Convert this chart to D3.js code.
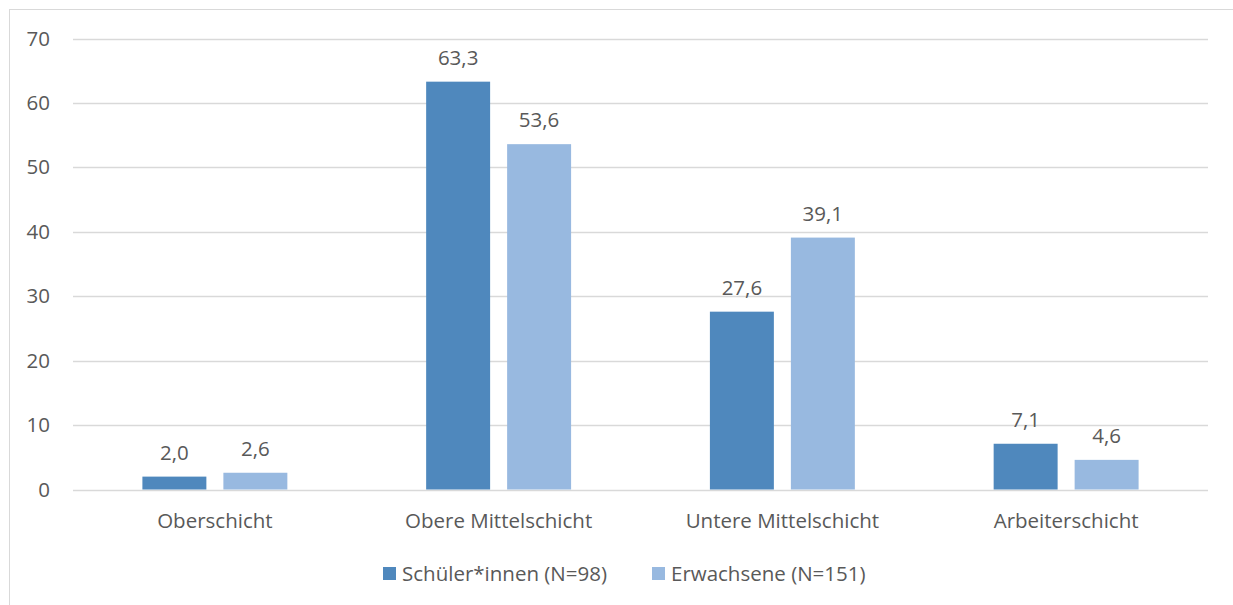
<!DOCTYPE html>
<html>
<head>
<meta charset="utf-8">
<script src="https://cdn.jsdelivr.net/npm/d3@7"></script>
<style>
  body { margin: 0; background: #fff; }
  text { font-family: "Open Sans", "Liberation Sans", sans-serif; fill: #595959; }
</style>
</head>
<body>
<script>
// data
var categories = ["Oberschicht", "Obere Mittelschicht", "Untere Mittelschicht", "Arbeiterschicht"];
var seriesNames = ["Schüler*innen (N=98)", "Erwachsene (N=151)"];
var schueler = [2.0, 63.3, 27.6, 7.1];
var erwachsene = [2.6, 53.6, 39.1, 4.6];
var yTicks = [0, 10, 20, 30, 40, 50, 60, 70];
var colors = ["#4f88bd", "#98b9e0"];

var width = 1233, height = 605;
var fs = 20.5;

var svg = d3.select("body").append("svg")
    .attr("width", width)
    .attr("height", height);

// outer frame
svg.append("rect")
    .attr("x", 9.5).attr("y", 9.5)
    .attr("width", width).attr("height", height)
    .attr("fill", "none")
    .attr("stroke", "#d9d9d9");

var plot = { left: 73, right: 1208, top: 38.5, bottom: 489.5 };

var y = d3.scaleLinear().domain([0, 70]).range([plot.bottom, plot.top]);
var x0 = d3.scaleBand().domain(categories).range([plot.left, plot.right]);
var x1 = d3.scaleBand().domain([0, 1]).range([0, x0.bandwidth()])
    .paddingInner(0.21).paddingOuter(0.857);

// gridlines
svg.append("g").selectAll("line")
  .data(yTicks)
  .enter().append("line")
    .attr("x1", plot.left).attr("x2", plot.right)
    .attr("y1", function(d) { return Math.round(y(d)) + 0.5; })
    .attr("y2", function(d) { return Math.round(y(d)) + 0.5; })
    .attr("stroke", "#d9d9d9")
    .attr("stroke-width", 1.3);

// y axis labels
var yAxis = d3.axisLeft(y).tickValues(yTicks).tickSize(0).tickPadding(0);
var gy = svg.append("g")
    .attr("transform", "translate(50,0)")
    .call(yAxis);
gy.select(".domain").remove();
gy.selectAll("text")
    .attr("font-size", fs)
    .style("font-family", "'Open Sans', sans-serif")
    .attr("fill", "#595959");

// x axis labels
var xAxis = d3.axisBottom(x0).tickSize(0).tickPadding(0);
var gx = svg.append("g")
    .attr("transform", "translate(0," + (plot.bottom + 24) + ")")
    .call(xAxis);
gx.select(".domain").remove();
gx.selectAll("text")
    .attr("font-size", fs)
    .style("font-family", "'Open Sans', sans-serif")
    .attr("fill", "#595959");

var rows = categories.map(function(c, i) {
  return { cat: c, vals: [schueler[i], erwachsene[i]] };
});

var groups = svg.append("g").selectAll("g")
  .data(rows)
  .enter().append("g")
    .attr("transform", function(d) { return "translate(" + x0(d.cat) + ",0)"; });

groups.selectAll("rect")
  .data(function(d) { return d.vals.map(function(v, k) { return { k: k, v: v }; }); })
  .enter().append("rect")
    .attr("x", function(d) { return x1(d.k); })
    .attr("width", x1.bandwidth())
    .attr("y", function(d) { return y(d.v); })
    .attr("height", function(d) { return plot.bottom - y(d.v); })
    .attr("fill", function(d) { return colors[d.k]; });

groups.selectAll("text.lbl")
  .data(function(d) { return d.vals.map(function(v, k) { return { k: k, v: v }; }); })
  .enter().append("text")
    .attr("class", "lbl")
    .attr("x", function(d) { return x1(d.k) + x1.bandwidth() / 2; })
    .attr("y", function(d) { return y(d.v) - 17; })
    .attr("text-anchor", "middle")
    .attr("font-size", fs)
    .text(function(d) { return d.v.toFixed(1).replace(".", ","); });

// legend
var legendX = [383, 652];
var legend = svg.append("g").selectAll("g")
  .data(seriesNames)
  .enter().append("g")
    .attr("transform", function(d, i) { return "translate(" + legendX[i] + ",567)"; });
legend.append("rect")
    .attr("width", 13).attr("height", 13)
    .attr("fill", function(d, i) { return colors[i]; });
legend.append("text")
    .attr("x", 19).attr("y", 14)
    .attr("font-size", fs)
    .text(function(d) { return d; });
</script>
</body>
</html>
